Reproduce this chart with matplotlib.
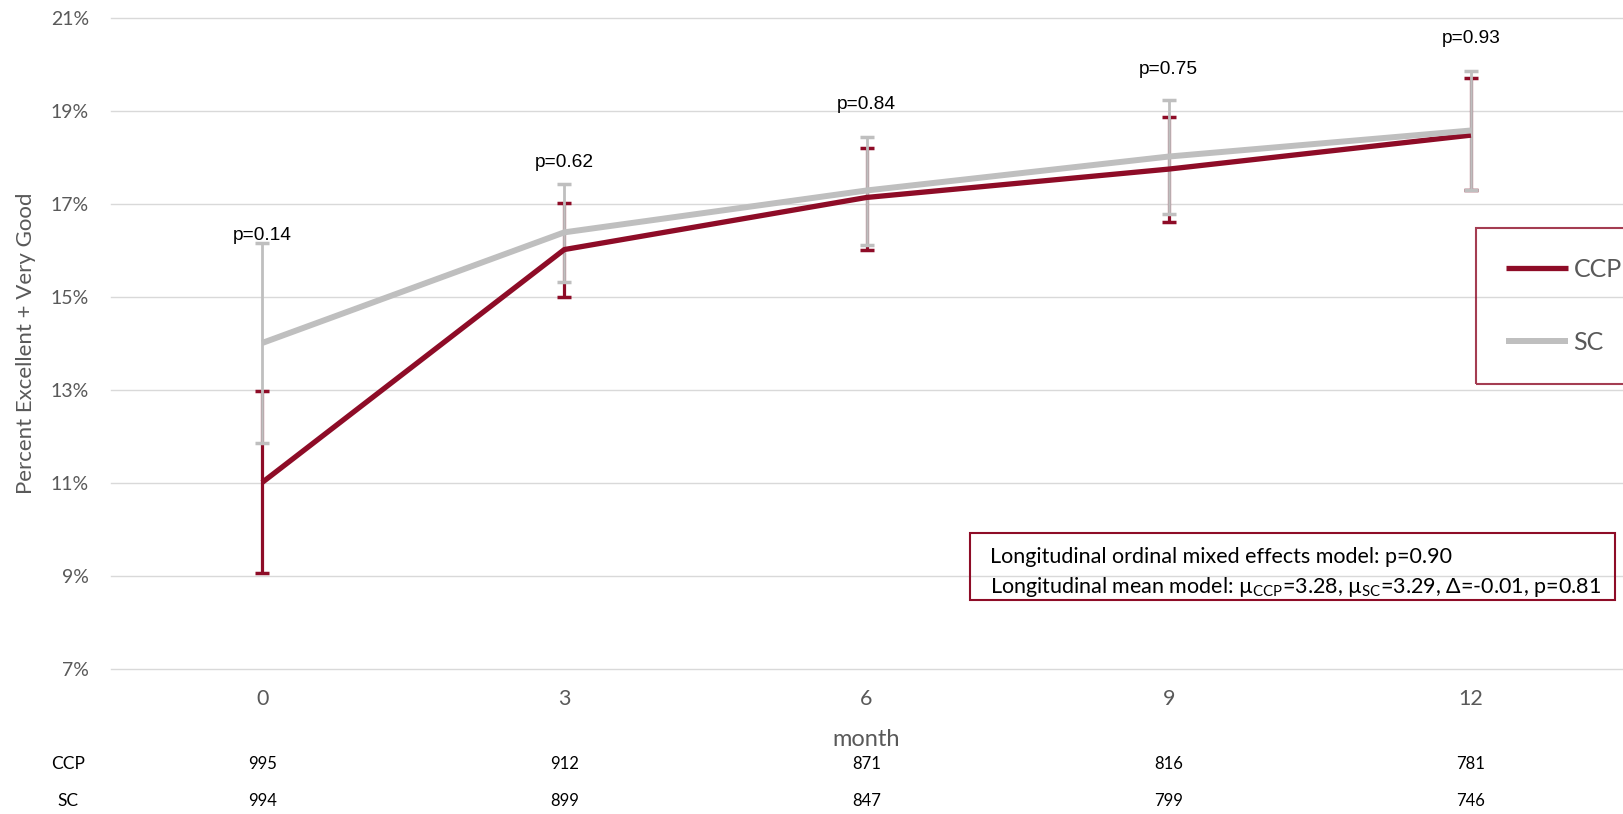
import matplotlib.pyplot as plt
from matplotlib.patches import Rectangle
from matplotlib.transforms import blended_transform_factory

plt.rcParams['font.family'] = ['Lato', 'DejaVu Sans']
plt.rcParams['mathtext.fontset'] = 'custom'
plt.rcParams['mathtext.rm'] = 'Lato'

# data (percent excellent + very good, 95% CI)
months = [0, 3, 6, 9, 12]
ccp_mean = [11.0, 16.01, 17.13, 17.74, 18.47]
ccp_lo = [9.05, 15.0, 16.01, 16.6, 17.3]
ccp_hi = [12.96, 17.02, 18.2, 18.87, 19.69]
sc_mean = [14.0, 16.38, 17.28, 18.01, 18.57]
sc_lo = [11.85, 15.32, 16.1, 16.78, 17.28]
sc_hi = [16.15, 17.43, 18.43, 19.23, 19.84]
p_values = ['p=0.14', 'p=0.62', 'p=0.84', 'p=0.75', 'p=0.93']
p_label_y = [16.31, 17.88, 19.12, 19.88, 20.55]
n_ccp = [995, 912, 871, 816, 781]
n_sc = [994, 899, 847, 799, 746]
yticks = [7, 9, 11, 13, 15, 17, 19, 21]

red = '#8E0C27'
gray = '#BFBFBF'
txt_gray = '#595959'

fig = plt.figure(figsize=(16.23, 8.14), dpi=100)
ax = fig.add_axes([0.0684, 0.1787, 0.931, 0.7998])

ccp_err = [[m - l for m, l in zip(ccp_mean, ccp_lo)], [h - m for m, h in zip(ccp_mean, ccp_hi)]]
sc_err = [[m - l for m, l in zip(sc_mean, sc_lo)], [h - m for m, h in zip(sc_mean, sc_hi)]]

ax.errorbar(months, ccp_mean, yerr=ccp_err, fmt='none', ecolor=red,
            elinewidth=2.3, capsize=5, capthick=2.5, zorder=3)
ax.errorbar(months, sc_mean, yerr=sc_err, fmt='none', ecolor=gray,
            elinewidth=2.0, capsize=5, capthick=2.5, zorder=4)
ax.plot(months, ccp_mean, color=red, lw=3.8, label='CCP', zorder=5,
        solid_capstyle='butt')
ax.plot(months, sc_mean, color=gray, lw=4.3, label='SC', zorder=6,
        solid_capstyle='butt')

for x, y, s in zip(months, p_label_y, p_values):
    ax.text(x, y, s, ha='center', va='center', fontsize=13.8,
            family=['Liberation Sans'], color='black', zorder=7)

ax.set_xlim(-1.5, 13.5)
ax.set_ylim(7, 21)
ax.set_yticks(yticks)
ax.set_yticklabels([f'{v}%' for v in yticks])
ax.set_xticks(months)
ax.grid(axis='y', color='#D9D9D9', lw=1.0)
for gl in ax.get_ygridlines():
    gl.set_clip_on(False)
ax.set_axisbelow(True)
for s in ax.spines.values():
    s.set_visible(False)
ax.tick_params(axis='y', length=0, pad=16, labelsize=14, labelcolor=txt_gray)
ax.tick_params(axis='x', length=0, pad=15, labelsize=15.5, labelcolor=txt_gray)

ax.set_xlabel('month', fontsize=17, color=txt_gray)
ax.xaxis.set_label_coords(0.5, -0.093)
fig.text(0.016, 0.5787, 'Percent Excellent + Very Good', rotation=90,
         ha='center', va='center', fontsize=16, color=txt_gray)

leg = ax.legend(loc='upper left', bbox_to_anchor=(0.9094, 0.720),
                bbox_transform=fig.transFigure, fontsize=18, frameon=True,
                fancybox=False, handlelength=2.5, handletextpad=0.2,
                labelspacing=2.0, borderpad=1.2, borderaxespad=0)
leg.get_frame().set_edgecolor(red)
leg.get_frame().set_linewidth(1.5)
leg.get_frame().set_facecolor('none')
for t in leg.get_texts():
    t.set_color(txt_gray)

# model summary box
fig.patches.append(Rectangle((0.5977, 0.2629), 0.3974, 0.0823, transform=fig.transFigure,
                             facecolor='none', edgecolor=red, lw=1.5))
fig.text(0.61, 0.3157, 'Longitudinal ordinal mixed effects model: p=0.90',
         ha='left', va='center', fontsize=15.5)
fig.text(0.61, 0.2789,
         'Longitudinal mean model: µ$_{\\mathrm{CCP}}$=3.28, µ$_{\\mathrm{SC}}$=3.29, Δ=-0.01, p=0.81',
         ha='left', va='center', fontsize=15.5)

# numbers at risk table
tr = blended_transform_factory(ax.transData, fig.transFigure)
fig.text(0.0419, 0.0614, 'CCP', ha='center', va='center', fontsize=12.5)
fig.text(0.0419, 0.0160, 'SC', ha='center', va='center', fontsize=12.5)
for x, a, b in zip(months, n_ccp, n_sc):
    ax.text(x, 0.0614, str(a), transform=tr, ha='center', va='center', fontsize=12)
    ax.text(x, 0.0160, str(b), transform=tr, ha='center', va='center', fontsize=12)

fig.savefig('out.png', dpi=100)
